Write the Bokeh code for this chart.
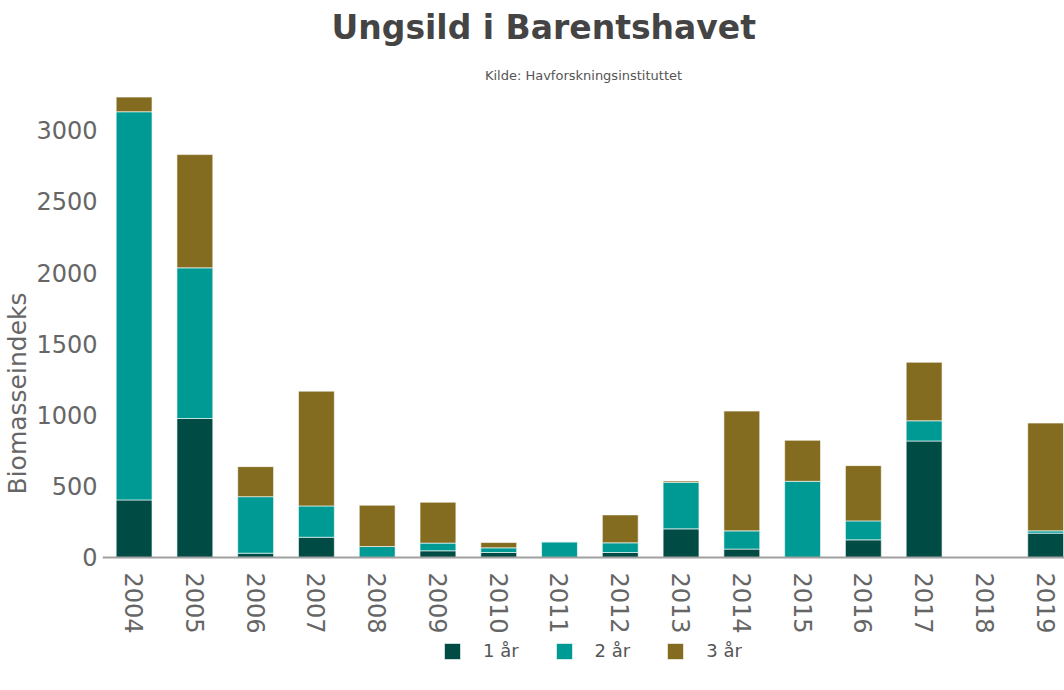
import math
from bokeh.plotting import figure
from bokeh.models import (ColumnDataSource, Range1d, FixedTicker, Legend, LegendItem, Title)
from bokeh.embed import file_html
from bokeh.resources import INLINE

years = [2004, 2005, 2006, 2007, 2008, 2009, 2010, 2011, 2012, 2013, 2014, 2015, 2016, 2017, 2018, 2019]
age1 = [404, 976, 30, 142, 0, 47, 35, 0, 35, 201, 59, 0, 124, 818, 0, 171]
age2 = [2726, 1058, 397, 220, 77, 54, 33, 110, 68, 327, 128, 535, 133, 142, 0, 16]
age3 = [103, 795, 211, 806, 290, 287, 37, 0, 196, 9, 841, 288, 388, 411, 0, 757]
series_names = ["1 år", "2 år", "3 år"]
colors = ["#004c45", "#009a94", "#836b1f"]
y_ticks = [0, 500, 1000, 1500, 2000, 2500, 3000]

title_text = "Ungsild i Barentshavet"
subtitle_text = "Kilde: Havforskningsinstituttet"
y_label = "Biomasseindeks"

FONT = "DejaVu Sans"
stack_cols = ["a1", "a2", "a3"]

source = ColumnDataSource(dict(year=years, a1=age1, a2=age2, a3=age3))

# the frame reaches the bottom edge; the x axis is pinned at y=0 so that the
# tick labels and the legend sit below the bars
p = figure(width=1064, height=690, output_backend="svg", toolbar_location=None,
           x_range=Range1d(2003.48, 2019.31), y_range=Range1d(-934, 3237),
           title=None, min_border_left=0, min_border_right=0, min_border_top=0,
           min_border_bottom=0)
p.outline_line_color = None
p.background_fill_color = "white"
p.border_fill_color = "white"

renderers = p.vbar_stack(stack_cols, x="year", width=0.59, color=colors,
                         line_color="white", line_width=1, line_alpha=0.6, source=source)

# titles (subtitle nearest to the plot, main title above it)
sub = Title(text=subtitle_text, align="center", text_font=FONT, text_font_size="13px",
            text_font_style="normal", text_color="#555555", standoff=27)
p.add_layout(sub, "above")
main = Title(text=title_text, align="left", offset=229, text_font=FONT, text_font_size="33px",
             text_font_style="bold", text_color="#444444", standoff=11)
p.add_layout(main, "above")

# axes
p.xgrid.grid_line_color = None
p.ygrid.grid_line_color = None

p.xaxis.fixed_location = 0
p.xaxis.ticker = FixedTicker(ticks=years)
p.xaxis.major_label_orientation = -math.pi / 2
p.xaxis.major_label_text_font = FONT
p.xaxis.major_label_text_font_size = "24px"
p.xaxis.major_label_text_color = "#666666"
p.xaxis.major_tick_line_color = None
p.xaxis.minor_tick_line_color = None
p.xaxis.major_tick_out = 0
p.xaxis.major_tick_in = 0
p.xaxis.axis_line_color = "#a0a0a0"
p.xaxis.axis_line_width = 2
p.xaxis.major_label_standoff = 15

p.yaxis.ticker = FixedTicker(ticks=y_ticks)
p.yaxis.major_label_text_font = FONT
p.yaxis.major_label_text_font_size = "24px"
p.yaxis.major_label_text_color = "#666666"
p.yaxis.major_tick_line_color = None
p.yaxis.minor_tick_line_color = None
p.yaxis.major_tick_out = 0
p.yaxis.major_tick_in = 0
p.yaxis.axis_line_color = None
p.yaxis.major_label_standoff = 5
p.yaxis.axis_label = y_label
p.yaxis.axis_label_text_font = FONT
p.yaxis.axis_label_text_font_size = "25px"
p.yaxis.axis_label_text_font_style = "normal"
p.yaxis.axis_label_text_color = "#666666"
p.yaxis.axis_label_standoff = 1

legend = Legend(items=[LegendItem(label=n, renderers=[r]) for n, r in zip(series_names, renderers)],
                orientation="horizontal", location=(340, 29),
                label_text_font=FONT, label_text_font_size="18px", label_text_color="#555555",
                glyph_width=20, glyph_height=20, label_standoff=21, spacing=35,
                border_line_color=None, background_fill_alpha=0, margin=0, padding=0)
p.add_layout(legend, "center")

open("out.html", "w").write(file_html(p, INLINE))
